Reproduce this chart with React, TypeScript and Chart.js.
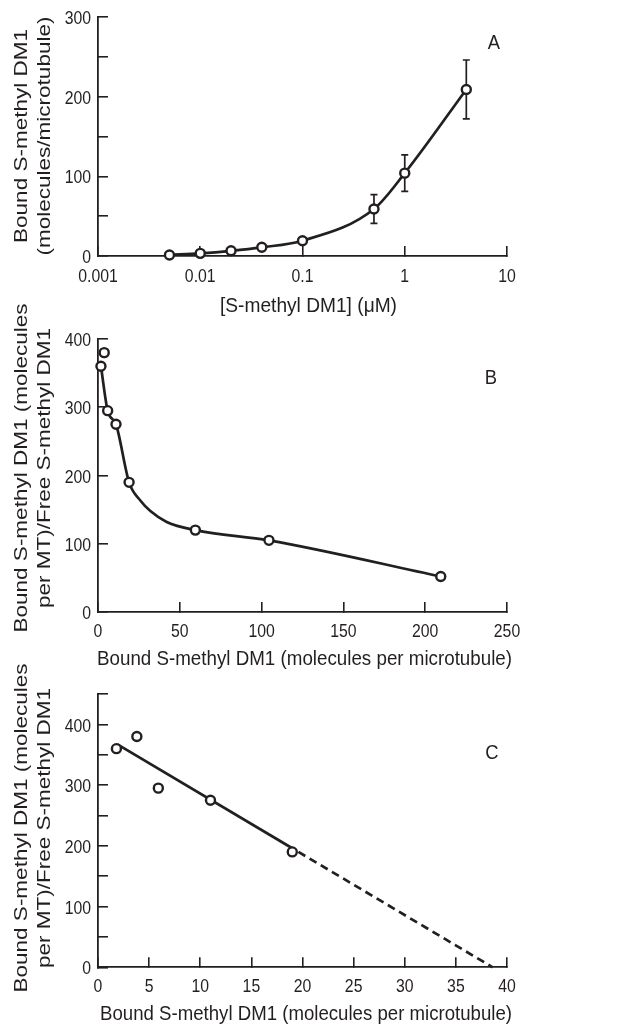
import React, { useEffect, useRef } from 'react';
import { Chart, registerables } from 'chart.js';

Chart.register(...registerables);

// ---------- data ----------
// Panel A: binding isotherm (log x)
const concA = [0.005, 0.01, 0.02, 0.04, 0.1, 0.5, 1, 4];
const boundA = [1.3, 3.3, 6.5, 10.9, 19.2, 59, 104, 209];
const errA = [0, 0, 0, 0, 0, 18, 23, 37];
const ticksA = [0.001, 0.01, 0.1, 1, 10];

// Panel B: Scatchard plot
const boundB = [1.8, 3.8, 5.9, 11, 19, 59.5, 104.5, 209.5];
const ratioB = [360, 380, 295, 275, 190, 120, 105, 52];
// fitted curve
const fitBX = [1.8, 5.9, 11, 19, 26, 32, 42, 59.5, 104.5, 209.5];
const fitBY = [360, 295, 275, 190, 163, 148, 132, 120, 105, 52];

// Panel C: low-occupancy region
const boundC = [1.8, 3.8, 5.9, 11, 19];
const ratioC = [360, 380, 295, 275, 190];
const fitCX = [1.9, 19];
const fitCY = [367, 196];
const extCX = [19.6, 38.6];
const extCY = [190, 0];

const INK = '#231f20';
const FONT = "'Liberation Sans', Arial, sans-serif";

const pts = (xs: number[], ys: number[]) => xs.map((x, i) => ({ x, y: ys[i] }));

// ---------- text plugin (condensed text, drawn from the chart's scales) ----------
function drawSqueezed(
  ctx: CanvasRenderingContext2D,
  text: string,
  x: number,
  capCenterY: number,
  align: CanvasTextAlign,
  size: number,
  q: number,
  targetWidth?: number
) {
  ctx.save();
  ctx.font = `${size}px ${FONT}`;
  ctx.textAlign = align;
  ctx.textBaseline = 'alphabetic';
  let sx = q;
  if (targetWidth) {
    const w = ctx.measureText(text).width;
    if (w > 0) sx = targetWidth / w;
  }
  ctx.translate(x, capCenterY + 0.358 * size);
  ctx.scale(sx, 1);
  ctx.fillText(text, 0, 0);
  ctx.restore();
}

const textPlugin = {
  id: 'texts',
  afterDraw(chart: any, _args: any, o: any) {
    const { ctx } = chart;
    const xs = chart.scales.x;
    const ys = chart.scales.y;
    ctx.save();
    ctx.fillStyle = INK;

    // y tick labels
    ys.ticks.forEach((t: any) => {
      if (t.value % o.yLabelEvery !== 0) return;
      drawSqueezed(ctx, String(t.value), ys.right - 7, ys.getPixelForValue(t.value) + 0.5, 'right', o.tickSize, o.tickSqueeze);
    });
    // x tick labels
    xs.ticks.forEach((t: any) => {
      drawSqueezed(ctx, String(t.value), xs.getPixelForValue(t.value), xs.top + o.xLabelGap, 'center', o.tickSize, o.tickSqueeze);
    });
    // x title
    drawSqueezed(ctx, o.xTitle, o.xTitleX, xs.top + o.xTitleGap, 'center', o.xTitleSize, 1, o.xTitleWidth);

    // y title (rotated, glyph height condensed)
    ctx.font = `${o.yTitleSize}px ${FONT}`;
    ctx.textAlign = 'center';
    ctx.textBaseline = 'alphabetic';
    o.yTitle.forEach((line: string, i: number) => {
      ctx.save();
      ctx.translate(o.yTitleBaselines[i], o.yTitleCenterY);
      ctx.scale(o.yTitleSqueeze, 1);
      ctx.rotate(-Math.PI / 2);
      ctx.fillText(line, 0, 0);
      ctx.restore();
    });

    // panel letter
    drawSqueezed(ctx, o.letter, o.letterX, o.letterY, 'center', o.letterSize, o.letterSqueeze);
    ctx.restore();
  },
};

const errorBarPlugin = {
  id: 'errorBars',
  beforeDatasetsDraw(chart: any, _args: any, opts: any) {
    if (!opts || !opts.err) return;
    const { ctx } = chart;
    const xs = chart.scales.x;
    const ys = chart.scales.y;
    ctx.save();
    ctx.strokeStyle = INK;
    ctx.lineWidth = 1.7;
    opts.xs.forEach((xv: number, i: number) => {
      const e = opts.err[i];
      if (!e) return;
      const px = xs.getPixelForValue(xv);
      const t = ys.getPixelForValue(opts.ys[i] + e);
      const b = ys.getPixelForValue(opts.ys[i] - e);
      const c = 3.5;
      ctx.beginPath();
      ctx.moveTo(px, t);
      ctx.lineTo(px, b);
      ctx.moveTo(px - c, t);
      ctx.lineTo(px + c, t);
      ctx.moveTo(px - c, b);
      ctx.lineTo(px + c, b);
      ctx.stroke();
    });
    ctx.restore();
  },
};

// ---------- shared styling ----------
const grid = {
  drawOnChartArea: false,
  drawTicks: true,
  tickLength: -10,
  color: INK,
  lineWidth: 1.6,
};
const border = { display: true, color: INK, width: 1.8 };

const pointStyle = {
  pointRadius: 4.5,
  pointHoverRadius: 4.5,
  pointBorderWidth: 2.4,
  pointBackgroundColor: '#ffffff',
  pointBorderColor: INK,
};

const lineStyle = {
  showLine: true,
  borderColor: INK,
  borderWidth: 2.7,
  pointRadius: 0,
  clip: false,
};

const baseOptions = (padTop: number) => ({
  animation: false,
  responsive: false,
  devicePixelRatio: 1,
  events: [],
  layout: { padding: { left: 0, right: 126, top: padTop, bottom: 0 } },
});

function yAxis(max: number, step: number) {
  return {
    type: 'linear',
    min: 0,
    max,
    grid,
    border,
    ticks: { stepSize: step, autoSkip: false, display: false },
    afterFit: (s: any) => {
      s.width = 98;
    },
  };
}

function xAxis(extra: any, height: number) {
  return {
    grid,
    border,
    ...extra,
    ticks: { ...(extra.ticks || {}), autoSkip: false, display: false },
    title: { display: false },
    afterFit: (s: any) => {
      s.height = height;
    },
  };
}

const textCommon = {
  yLabelEvery: 100,
  tickSize: 18.6,
  tickSqueeze: 0.85,
  xTitleSize: 21,
  yTitleSize: 22.5,
  yTitleSqueeze: 0.85,
  yTitleBaselines: [27, 50],
  letterSize: 20,
  letterSqueeze: 0.92,
};

// ---------- configs ----------
function configA(): any {
  return {
    type: 'scatter',
    data: {
      datasets: [
        {
          data: pts(concA, boundA),
          ...lineStyle,
          cubicInterpolationMode: 'monotone',
          ...pointStyle,
        },
      ],
    },
    options: {
      ...baseOptions(17),
      plugins: {
        legend: { display: false },
        tooltip: { enabled: false },
        errorBars: { xs: concA, ys: boundA, err: errA },
        texts: {
          ...textCommon,
          xLabelGap: 19.5,
          xTitle: '[S-methyl DM1] (\u03bcM)',
          xTitleX: 308.5,
          xTitleGap: 48.7,
          xTitleWidth: 177,
          yTitle: ['Bound S-methyl DM1', '(molecules/microtubule)'],
          yTitleCenterY: 136,
          letter: 'A',
          letterX: 494,
          letterY: 42,
        },
      },
      scales: {
        x: xAxis(
          {
            type: 'logarithmic',
            min: 0.001,
            max: 10,
            afterBuildTicks: (s: any) => {
              s.ticks = ticksA.map((v) => ({ value: v }));
            },
          },
          74
        ),
        y: yAxis(300, 50),
      },
    },
    plugins: [errorBarPlugin, textPlugin],
  };
}

function configB(): any {
  return {
    type: 'scatter',
    data: {
      datasets: [
        { data: pts(boundB, ratioB), showLine: false, clip: false, order: 0, ...pointStyle },
        { data: pts(fitBX, fitBY), ...lineStyle, cubicInterpolationMode: 'monotone', order: 1 },
      ],
    },
    options: {
      ...baseOptions(49),
      plugins: {
        legend: { display: false },
        tooltip: { enabled: false },
        texts: {
          ...textCommon,
          xLabelGap: 18,
          xTitle: 'Bound S-methyl DM1 (molecules per microtubule)',
          xTitleX: 304.5,
          xTitleGap: 45.8,
          xTitleWidth: 415,
          yTitle: ['Bound S-methyl DM1 (molecules', 'per MT)/Free S-methyl DM1'],
          yTitleCenterY: 178,
          letter: 'B',
          letterX: 491,
          letterY: 87,
        },
      },
      scales: {
        x: xAxis({ type: 'linear', min: 0, max: 250, ticks: { stepSize: 50 } }, 68),
        y: yAxis(400, 100),
      },
    },
    plugins: [textPlugin],
  };
}

function configC(): any {
  return {
    type: 'scatter',
    data: {
      datasets: [
        { data: pts(boundC, ratioC), showLine: false, clip: false, order: 0, ...pointStyle },
        { data: pts(fitCX, fitCY), ...lineStyle, order: 1 },
        { data: pts(extCX, extCY), ...lineStyle, borderDash: [8, 5], order: 1 },
      ],
    },
    options: {
      ...baseOptions(44),
      plugins: {
        legend: { display: false },
        tooltip: { enabled: false },
        texts: {
          ...textCommon,
          xLabelGap: 17.7,
          xTitle: 'Bound S-methyl DM1 (molecules per microtubule)',
          xTitleX: 306,
          xTitleGap: 45.2,
          xTitleWidth: 412,
          yTitle: ['Bound S-methyl DM1 (molecules', 'per MT)/Free S-methyl DM1'],
          yTitleCenterY: 178,
          letter: 'C',
          letterX: 492,
          letterY: 102,
        },
      },
      scales: {
        x: xAxis({ type: 'linear', min: 0, max: 40, ticks: { stepSize: 5 } }, 58.7),
        y: yAxis(450, 50),
      },
    },
    plugins: [textPlugin],
  };
}

// ---------- components ----------
function ChartCanvas({ top, height, makeConfig }: { top: number; height: number; makeConfig: () => any }) {
  const ref = useRef<HTMLCanvasElement | null>(null);
  useEffect(() => {
    if (!ref.current) return;
    const chart = new Chart(ref.current, makeConfig());
    return () => chart.destroy();
  }, [makeConfig]);
  return (
    <canvas
      ref={ref}
      width={633}
      height={height}
      style={{ position: 'absolute', left: 0, top, width: 633, height }}
    />
  );
}

export default function App() {
  return (
    <div style={{ position: 'absolute', left: 0, top: 0, width: 633, height: 1026, background: '#ffffff', overflow: 'hidden' }}>
      <ChartCanvas top={0} height={330} makeConfig={configA} />
      <ChartCanvas top={290} height={390} makeConfig={configB} />
      <ChartCanvas top={650} height={376} makeConfig={configC} />
    </div>
  );
}
